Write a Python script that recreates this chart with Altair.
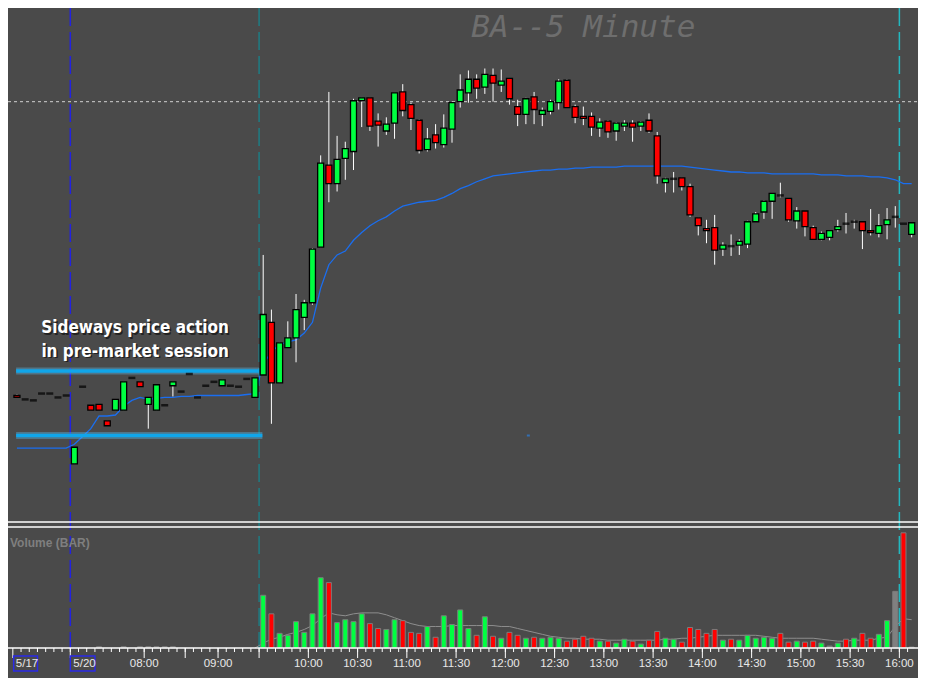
import altair as alt
import pandas as pd

# ---------------- data (bar slots: 0 = 09:30 bar, negatives = 5/17 after-hours + 5/20 pre-market)
slots = list(range(-30, 80))

open_p = [
    361.03, 360.99, 360.98, 361.05, 361.05, 361.01, 361.03, 360.33, 361.12, 360.93,
    360.94, 360.77, 360.88, 360.88, 361.21, 361.17, 360.94, 360.88, 360.93, 361.13,
    361.07, 361.25, 361.01, 361.13, 361.17, 361.13, 361.13, 361.12, 361.20, 361.01,
    361.24, 361.78, 361.16, 361.52, 361.62, 361.83, 361.98, 362.55, 363.39, 363.20,
    363.46, 363.53, 364.05, 364.08, 363.84, 363.74, 363.82, 364.14, 364.01, 363.85,
    363.55, 363.70, 363.60, 363.76, 364.04, 364.13, 364.27, 364.19, 364.31, 364.21,
    364.28, 363.99, 363.91, 364.09, 363.91, 363.94, 364.03, 364.26, 363.99, 363.89,
    363.89, 363.77, 363.84, 363.74, 363.79, 363.82, 363.79, 363.85, 363.69, 363.21,
    363.25, 363.26, 363.17, 362.85, 362.74, 362.75, 362.53, 362.56, 362.57, 362.58,
    362.81, 362.91, 363.02, 363.08, 363.05, 362.82, 362.92, 362.75, 362.63, 362.65,
    362.73, 362.79, 362.81, 362.81, 362.72, 362.69, 362.78, 362.86, 362.79, 362.68,
]
high_p = [
    361.04, 360.99, 360.98, 361.05, 361.05, 361.01, 361.03, 360.50, 361.12, 360.93,
    360.94, 360.77, 360.99, 361.17, 361.21, 361.17, 361.01, 361.14, 360.93, 361.17,
    361.07, 361.25, 361.01, 361.13, 361.17, 361.19, 361.13, 361.12, 361.20, 361.21,
    362.47, 361.91, 361.57, 361.79, 362.07, 362.01, 362.54, 363.49, 364.14, 363.69,
    363.63, 364.07, 364.08, 364.08, 363.92, 363.88, 364.13, 364.22, 364.03, 363.86,
    363.77, 363.81, 363.91, 364.04, 364.32, 364.36, 364.32, 364.38, 364.38, 364.37,
    364.28, 364.06, 364.08, 364.14, 363.98, 364.06, 364.27, 364.27, 364.01, 363.99,
    363.93, 363.87, 363.85, 363.83, 363.85, 363.85, 363.84, 363.92, 363.73, 363.26,
    363.32, 363.26, 363.20, 362.85, 362.83, 362.88, 362.60, 362.68, 362.63, 362.82,
    362.91, 363.03, 363.10, 363.21, 363.05, 362.96, 362.92, 362.77, 362.71, 362.72,
    362.83, 362.90, 362.83, 362.81, 362.94, 362.89, 362.95, 362.97, 362.79, 362.80,
]
low_p = [
    361.01, 360.99, 360.98, 361.05, 361.05, 361.01, 361.03, 360.33, 361.12, 360.88,
    360.88, 360.72, 360.88, 360.88, 361.21, 361.12, 360.69, 360.88, 360.93, 361.02,
    361.07, 361.25, 361.01, 361.13, 361.17, 361.13, 361.13, 361.12, 361.20, 361.01,
    361.24, 360.74, 361.16, 361.52, 361.37, 361.70, 361.96, 362.55, 363.01, 363.12,
    363.24, 363.34, 363.78, 363.74, 363.58, 363.70, 363.66, 363.89, 363.75, 363.51,
    363.53, 363.56, 363.57, 363.62, 363.98, 364.03, 364.07, 364.12, 364.04, 364.14,
    364.01, 363.79, 363.81, 363.81, 363.79, 363.91, 363.96, 363.98, 363.82, 363.80,
    363.69, 363.68, 363.67, 363.64, 363.74, 363.63, 363.74, 363.72, 363.20, 363.11,
    363.11, 363.13, 362.86, 362.67, 362.59, 362.37, 362.46, 362.46, 362.47, 362.54,
    362.81, 362.84, 362.84, 363.06, 362.81, 362.74, 362.66, 362.63, 362.62, 362.62,
    362.71, 362.69, 362.74, 362.53, 362.67, 362.65, 362.63, 362.75, 362.79, 362.65,
]
close_p = [
    361.01, 360.99, 360.98, 361.05, 361.05, 361.01, 361.03, 360.50, 361.12, 360.88,
    360.88, 360.72, 360.99, 361.17, 361.21, 361.12, 361.01, 361.14, 360.93, 361.17,
    361.07, 361.25, 361.01, 361.13, 361.17, 361.19, 361.13, 361.12, 361.20, 361.21,
    361.86, 361.16, 361.57, 361.62, 361.91, 361.98, 362.53, 363.41, 363.20, 363.45,
    363.56, 364.05, 364.08, 363.79, 363.80, 363.81, 364.13, 363.95, 363.87, 363.54,
    363.66, 363.62, 363.77, 364.03, 364.16, 364.27, 364.18, 364.32, 364.23, 364.25,
    364.07, 363.91, 364.07, 363.96, 363.95, 364.04, 364.25, 363.98, 363.88, 363.87,
    363.78, 363.83, 363.73, 363.82, 363.82, 363.78, 363.83, 363.74, 363.28, 363.25,
    363.25, 363.17, 362.88, 362.77, 362.72, 362.52, 362.57, 362.56, 362.61, 362.81,
    362.89, 363.02, 363.10, 363.08, 362.83, 362.92, 362.76, 362.63, 362.69, 362.72,
    362.76, 362.79, 362.81, 362.72, 362.70, 362.77, 362.83, 362.86, 362.79, 362.80,
]
ma_p = [
    360.49, 360.49, 360.49, 360.49, 360.49, 360.49, 360.49, 360.53, 360.61, 360.69,
    360.82, 360.82, 360.83, 360.92, 360.98, 361.01, 360.99, 361.00, 361.01, 361.01,
    361.02, 361.02, 361.03, 361.03, 361.03, 361.03, 361.03, 361.03, 361.04, 361.05,
    361.35, 361.48, 361.55, 361.58, 361.60, 361.67, 361.78, 362.13, 362.37, 362.47,
    362.51, 362.62, 362.70, 362.77, 362.82, 362.86, 362.92, 362.97, 362.99, 363.01,
    363.02, 363.03, 363.06, 363.10, 363.15, 363.18, 363.22, 363.25, 363.28, 363.29,
    363.30, 363.31, 363.32, 363.33, 363.34, 363.34, 363.35, 363.35, 363.36, 363.36,
    363.37, 363.37, 363.37, 363.37, 363.38, 363.38, 363.38, 363.38, 363.38, 363.38,
    363.38, 363.38, 363.37, 363.36, 363.35, 363.34, 363.33, 363.32, 363.32, 363.31,
    363.31, 363.31, 363.30, 363.30, 363.30, 363.30, 363.30, 363.30, 363.29, 363.29,
    363.29, 363.28, 363.28, 363.28, 363.27, 363.27, 363.26, 363.24, 363.20, 363.20,
]
# volume in thousands of shares
volume = [
    0, 0, 0, 0, 0, 0, 0, 0, 0, 0,
    4, 0, 0, 4, 0, 4, 4, 4, 4, 4,
    0, 0, 0, 0, 0, 0, 0, 0, 0, 0,
    162, 105, 45, 39, 81, 48, 105, 216, 201, 78,
    87, 81, 105, 75, 60, 57, 87, 84, 48, 45,
    66, 33, 99, 72, 117, 60, 39, 96, 36, 30,
    48, 39, 30, 33, 30, 33, 30, 21, 27, 36,
    30, 21, 21, 15, 27, 21, 12, 24, 51, 30,
    27, 18, 63, 57, 45, 57, 24, 27, 24, 39,
    30, 33, 30, 45, 18, 21, 18, 21, 15, 6,
    15, 27, 30, 45, 30, 42, 84, 174, 354, 3,
]
vol_dir = (["flat"] * 30) + [
    "up", "down", "up", "up", "up", "up", "up", "up", "down", "up",
    "up", "up", "up", "down", "down", "up", "up", "down", "down", "down",
    "up", "down", "up", "up", "up", "up", "down", "up", "down", "up",
    "down", "down", "up", "down", "up", "up", "up", "down", "down", "down",
    "down", "up", "down", "up", "up", "down", "up", "down", "down", "up",
    "up", "down", "down", "down", "down", "down", "up", "down", "up", "up",
    "up", "up", "up", "down", "down", "up", "down", "down", "up", "flat",
    "up", "down", "up", "down", "down", "up", "up", "flat", "down", "flat",
]
vol_ma_slots = list(range(-1, 80))
vol_ma = [
    0,
    15, 27, 33, 42, 48, 57, 69, 90, 108, 102,
    99, 105, 108, 108, 108, 102, 93, 84, 75, 69,
    66, 66, 66, 69, 69, 69, 69, 69, 69, 66,
    66, 60, 54, 48, 42, 36, 33, 30, 30, 27,
    27, 27, 24, 24, 24, 24, 24, 24, 24, 27,
    27, 30, 30, 33, 36, 39, 39, 39, 39, 39,
    39, 36, 33, 30, 30, 30, 30, 30, 27, 24,
    21, 21, 24, 24, 24, 30, 33, 66, 90, 87,
]

session_lines_k = [-23.5, -0.5, 77.5]
session_lines_col = ["#2222e0", "#1e7d84", "#22b8c0"]
last_price_line = [364.04]
range_lines_k1 = [-30.1, -30.1]
range_lines_k2 = [-0.5, -0.1]
range_lines_p = [361.28, 360.62]
marker_k = [32.3]
marker_p = [360.62]
note_k = [-15.6, -15.6]
note_p = [361.72, 361.48]
note_text = ["Sideways price action", "in pre-market session"]
title_k = [39.0]
title_p = [364.95]
title_text = ["BA--5 Minute"]

label_k = [-30.5, -23.5, -14.5, -5.5, 5.5, 11.5, 17.5, 23.5, 29.5, 35.5, 41.5,
           47.5, 53.5, 59.5, 65.5, 71.5, 77.5]
label_text = ["5/17", "5/20", "08:00", "09:00", "10:00", "10:30", "11:00", "11:30",
              "12:00", "12:30", "13:00", "13:30", "14:00", "14:30", "15:00", "15:30", "16:00"]
major_k = label_k + [-9.5, -0.5]
minor_k = [s + 0.5 for s in slots[:-1]]
date_box_k1 = [-30.4, -23.5]
date_box_k2 = [-27.5, -20.5]

# ---------------- layout: one plot area, price on top, volume at the bottom
W, H = 910, 640
SEP1, SEP2 = 514, 519
xs = alt.Scale(domain=[-30.48, 79.16], nice=False, zero=False)
ps = alt.Scale(domain=[358.443, 365.0], nice=False, zero=False)
vs = alt.Scale(domain=[0, 1967], nice=False, zero=True)
X = alt.X("k:Q", scale=xs, axis=None)

def PY(f):
    return alt.Y(f, scale=ps, axis=None)

def VY(f):
    return alt.Y(f, scale=vs, axis=None)

df = pd.DataFrame({"k": slots, "o": open_p, "h": high_p, "l": low_p, "c": close_p, "ma": ma_p})
df["dir"] = ["up" if c > o else ("down" if c < o else "flat") for o, c in zip(open_p, close_p)]
base = alt.Chart(df)
one = pd.DataFrame({"a": [0]})

session_rules = alt.Chart(pd.DataFrame({"k": session_lines_k, "col": session_lines_col})).mark_rule(
    strokeDash=[18, 6], strokeWidth=1.5).encode(
    x=X, color=alt.Color("col:N", scale=None), y=alt.value(0), y2=alt.value(H))

hline = alt.Chart(pd.DataFrame({"p": last_price_line})).mark_rule(
    color="#d0d0d0", strokeDash=[3, 3], strokeWidth=1).encode(
    y=PY("p:Q"), x=alt.value(0), x2=alt.value(W))

ma_line = base.mark_line(color="#1a6ef0", strokeWidth=1.3).encode(x=X, y=PY("ma:Q"))

bdf = pd.DataFrame({"k": range_lines_k1, "k2": range_lines_k2, "p": range_lines_p})
band_glow = alt.Chart(bdf).mark_rule(color="#5cc8ff", strokeWidth=7, opacity=0.35).encode(
    x=X, x2="k2:Q", y=PY("p:Q"))
band_core = alt.Chart(bdf).mark_rule(color="#10a6ea", strokeWidth=3.5).encode(
    x=X, x2="k2:Q", y=PY("p:Q"))
marker = alt.Chart(pd.DataFrame({"k": marker_k, "p": marker_p})).mark_tick(
    orient="horizontal", size=3, thickness=2, color="#2a7fe0").encode(x=X, y=PY("p:Q"))

wicks = base.transform_filter("datum.h > datum.l").mark_rule(
    color="#ffffff", strokeWidth=1).encode(x=X, y=PY("l:Q"), y2="h:Q")
bodies = base.transform_filter("datum.o != datum.c").mark_bar(
    size=6, stroke="#000000", strokeWidth=1.3).encode(
    x=X, y=PY("o:Q"), y2="c:Q",
    color=alt.Color("dir:N", scale=alt.Scale(domain=["up", "down"], range=["#00ff41", "#ff0000"]),
                    legend=None))
dojis = base.transform_filter("datum.o == datum.c").mark_tick(
    orient="horizontal", size=7, thickness=2.5, color="#000000").encode(x=X, y=PY("o:Q"))

ndf = pd.DataFrame({"k": note_k, "p": note_p, "t": note_text})
note_font = "DejaVu Sans Condensed, DejaVu Sans, sans-serif"
note_shadow = alt.Chart(ndf).mark_text(
    font=note_font, fontWeight="bold", fontSize=17, color="#151515", opacity=0.75,
    align="center", baseline="middle", dx=1.5, dy=1.5).encode(x=X, y=PY("p:Q"), text="t:N")
note = alt.Chart(ndf).mark_text(
    font=note_font, fontWeight="bold", fontSize=17, color="#ffffff",
    align="center", baseline="middle").encode(x=X, y=PY("p:Q"), text="t:N")

title = alt.Chart(pd.DataFrame({"k": title_k, "p": title_p, "t": title_text})).mark_text(
    font="DejaVu Sans Mono", fontStyle="italic", fontSize=31, color="#6e6e6e",
    align="center", baseline="top").encode(x=X, y=PY("p:Q"), text="t:N")

# ---------------- volume part
voldf = pd.DataFrame({"k": slots, "v": volume, "vd": vol_dir})
vbars = alt.Chart(voldf).transform_filter("datum.v > 0").mark_bar(
    size=5, stroke="#7c7c7c", strokeWidth=1).encode(
    x=X, y=VY("v:Q"), y2=alt.datum(0),
    color=alt.Color("vd:N", scale=alt.Scale(domain=["up", "down", "flat"],
                                             range=["#00ff41", "#ff0000", "#808080"]), legend=None))
vma = alt.Chart(pd.DataFrame({"k": vol_ma_slots, "vm": vol_ma})).mark_line(
    color="#8e8e8e", strokeWidth=1).encode(x=X, y=VY("vm:Q"))

sep1 = alt.Chart(one).mark_rule(color="#ffffff", strokeWidth=1.5).encode(
    x=alt.value(0), x2=alt.value(W), y=alt.value(SEP1))
sep2 = alt.Chart(one).mark_rule(color="#ffffff", strokeWidth=1.5).encode(
    x=alt.value(0), x2=alt.value(W), y=alt.value(SEP2))
axis_line = alt.Chart(one).mark_rule(color="#ffffff", strokeWidth=1.5).encode(
    x=alt.value(0), x2=alt.value(W), y=alt.value(H))
vol_title = alt.Chart(one).mark_text(
    text="Volume (BAR)", font="Liberation Sans", fontWeight="bold", fontSize=12,
    color="#7f7f7f", align="left", baseline="middle").encode(x=alt.value(2), y=alt.value(SEP2 + 16))

minor_ticks = alt.Chart(pd.DataFrame({"k": minor_k})).mark_rule(color="#ffffff", strokeWidth=1).encode(
    x=X, y=alt.value(H), y2=alt.value(H + 4))
major_ticks = alt.Chart(pd.DataFrame({"k": major_k})).mark_rule(color="#ffffff", strokeWidth=1).encode(
    x=X, y=alt.value(H), y2=alt.value(H + 10))

ldf = pd.DataFrame({"k": label_k, "t": label_text, "left": [True, True] + [False] * 15})
labels_c = alt.Chart(ldf).transform_filter("!datum.left").mark_text(
    font="Liberation Sans", fontSize=11.5, color="#e8e8e8", align="center", baseline="middle").encode(
    x=X, y=alt.value(H + 16), text="t:N")
labels_l = alt.Chart(ldf).transform_filter("datum.left").mark_text(
    font="Liberation Sans", fontSize=11.5, color="#e8e8e8", align="left", baseline="middle", dx=3).encode(
    x=X, y=alt.value(H + 16), text="t:N")
date_boxes = alt.Chart(pd.DataFrame({"k": date_box_k1, "k2": date_box_k2})).mark_rect(
    fillOpacity=0, stroke="#2a2ae8", strokeWidth=1.5).encode(
    x=X, x2="k2:Q", y=alt.value(H + 8), y2=alt.value(H + 23))

chart = alt.layer(
    session_rules, hline, ma_line, band_glow, band_core, marker, wicks, bodies, dojis,
    sep1, sep2, vol_title, vma, vbars, axis_line, minor_ticks, major_ticks,
    date_boxes, labels_c, labels_l, note_shadow, note, title
).resolve_scale(y="independent", color="independent").properties(
    width=W, height=H, background="#4a4a4a",
    autosize=alt.AutoSizeParams(type="none"),
    padding={"left": 0, "top": 0, "right": 0, "bottom": 30},
).configure_view(strokeWidth=0)

chart.save("out.html", embed_options={"renderer": "svg", "actions": False})
